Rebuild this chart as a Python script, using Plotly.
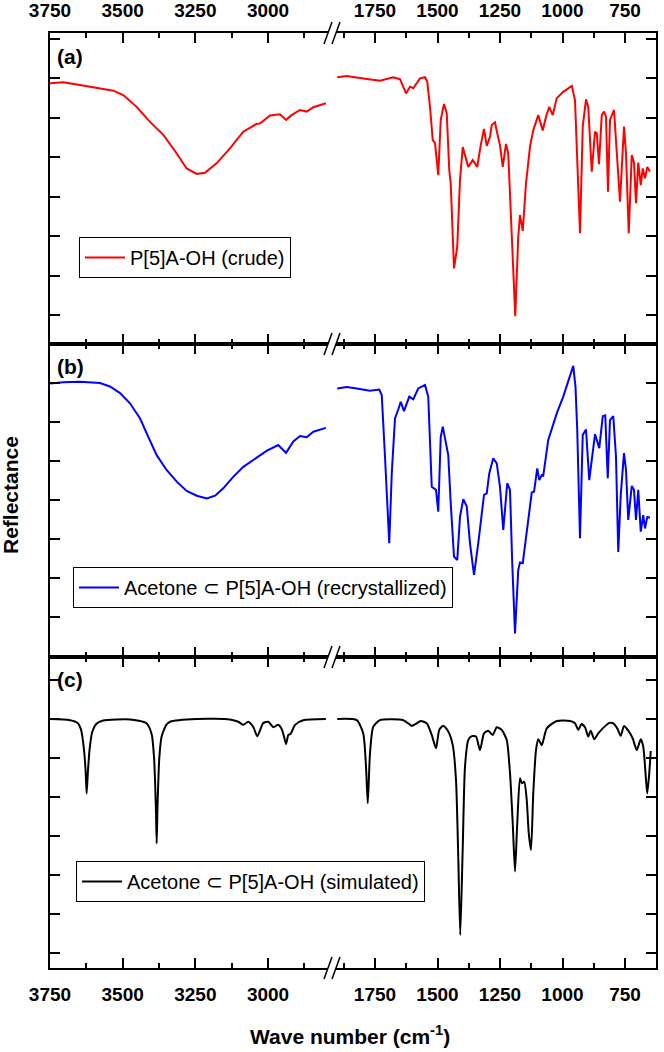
import plotly.graph_objects as go

# ---------------- data (wave number, reflectance in arbitrary units) ----------------
wn_a_hi = [3750,3704,3647,3589,3532,3498,3452,3406,3360,3314,3280,3245,3217,3177,3131,3085,3039,3028,2993,2959,2938,2919,2890,2867,2844,2801]
r_a_hi = [5.87,5.89,5.82,5.74,5.68,5.57,5.27,4.89,4.56,4.09,3.71,3.57,3.60,3.84,4.22,4.64,4.84,4.85,5.05,5.08,4.94,5.06,5.19,5.15,5.26,5.36]

wn_a_lo = [1901,1863,1797,1730,1677,1650,1626,1610,1597,1570,1550,1541,1530,1519,1510,1497,1487,1474,1463,1453,
           1447,1434,1421,1410,1399,1377,1359,1341,1327,1314,1303,1290,1283,1270,1261,1250,1239,1226,1217,1203,
           1189,1177,1170,1159,1146,1130,1117,1097,1079,1066,1053,1039,1023,997,963,950,941,930,919,906,
           897,883,870,863,854,843,834,826,818,810,794,783,770,754,746,735,723,714,706,697,
           687,679,670,661,650]
r_a_lo = [6.02,6.05,5.99,5.93,6.02,5.97,5.61,5.78,5.74,5.99,6.02,5.91,5.27,4.43,4.36,3.54,4.94,5.34,5.11,3.67,
          3.33,1.18,1.73,3.42,4.25,3.75,3.92,3.75,4.30,4.71,4.28,4.51,4.81,4.88,4.60,4.30,3.75,4.33,4.09,1.90,
          -0.03,1.98,2.53,2.13,3.33,4.26,4.68,5.06,4.67,5.02,5.27,5.06,5.49,5.65,5.80,5.44,4.09,2.07,4.77,5.46,
          5.27,3.63,4.64,4.60,3.82,5.06,5.15,5.02,3.12,4.94,5.19,4.09,2.87,4.77,4.09,2.07,4.05,3.86,2.83,3.86,
          3.29,3.71,3.46,3.75,3.63]

wn_b_hi = [3750,3704,3647,3578,3544,3509,3475,3440,3412,3383,3349,3314,3280,3245,3211,3182,3154,3119,3085,3039,
           3005,2965,2938,2913,2890,2867,2844,2801]
r_b_hi = [5.99,6.02,6.03,6.00,5.91,5.74,5.48,5.09,4.62,4.15,3.77,3.47,3.23,3.11,3.04,3.11,3.30,3.60,3.85,4.09,
          4.26,4.41,4.21,4.50,4.64,4.61,4.75,4.85]

wn_b_lo = [1901,1863,1823,1770,1733,1723,1710,1693,1683,1670,1657,1647,1634,1613,1597,1577,1550,1537,1523,1506,
           1497,1487,1479,1470,1457,1447,1434,1421,1410,1397,1383,1370,1354,1337,1314,1303,1293,1277,1263,1250,
           1237,1221,1210,1201,1190,1177,1170,1159,1143,1123,1114,1101,1093,1083,1077,1057,1023,997,957,948,
           941,930,919,906,893,870,853,839,829,819,810,797,786,777,767,754,746,737,723,714,
           706,697,687,677,670,661,650]
r_b_lo = [5.86,5.90,5.86,5.80,5.83,5.69,4.11,1.89,3.68,5.09,5.32,5.52,5.28,5.65,5.58,5.86,5.95,5.65,3.34,3.26,
          2.70,4.62,4.88,4.54,4.15,2.91,1.55,1.46,2.57,3.02,2.84,1.89,1.08,1.89,3.13,3.17,3.68,4.07,3.94,3.34,
          2.23,3.43,3.26,1.38,-0.42,1.21,1.40,1.38,2.23,3.19,3.21,3.81,3.51,3.64,3.62,4.54,5.22,5.65,6.44,5.90,
          4.79,2.02,4.67,4.81,3.51,4.69,4.33,5.15,5.17,3.56,5.05,5.15,4.11,1.67,3.13,4.20,3.77,2.49,3.36,3.26,
          2.49,3.26,2.19,2.61,2.27,2.56,2.55]

wn_c_hi = [3750,3681,3655,3643,3633,3627,3624,3620,3614,3605,3590,3567,3475,3418,3400,3392,3386,3383,3380,3374,
           3366,3350,3337,3245,3131,3102,3085,3068,3051,3037,3016,2999,2982,2965,2953,2945,2938,2930,2922,2907,
           2879,2801]
r_c_hi = [6.0,5.97,5.90,5.72,5.21,4.60,4.09,4.60,5.21,5.66,5.88,5.96,5.99,5.89,5.60,5.00,3.80,2.81,3.80,5.00,
          5.55,5.85,5.93,6.0,5.99,5.93,5.85,5.93,5.80,5.56,5.90,5.93,5.79,5.85,5.74,5.55,5.36,5.59,5.62,5.85,
          5.97,6.0]

wn_c_lo = [1901,1823,1797,1786,1779,1770,1757,1730,1637,1613,1603,1594,1583,1567,1543,1523,1506,1493,1477,1457,
           1439,1426,1417,1409,1399,1390,1377,1363,1346,1330,1314,1297,1279,1263,1243,1223,1210,1199,1190,1181,
           1170,1162,1153,1143,1135,1126,1117,1106,1097,1083,1063,1023,970,950,937,924,910,897,887,873,
           857,839,813,797,781,767,754,737,719,703,687,677,666,661,653,647]
r_c_lo = [6.0,5.97,5.63,4.78,3.84,5.12,5.80,5.97,5.97,5.87,5.82,5.85,5.89,5.95,5.89,5.59,5.25,5.72,5.83,5.68,
          5.33,4.44,2.47,0.46,2.72,4.78,5.46,5.56,5.55,5.20,5.63,5.70,5.59,5.79,5.72,5.46,4.61,3.32,2.09,3.32,
          4.48,4.35,4.39,3.92,3.07,2.64,4.09,5.20,5.48,5.33,5.76,5.95,5.95,5.89,5.72,5.87,5.79,5.55,5.70,5.48,
          5.63,5.76,5.90,5.89,5.76,5.57,5.82,5.70,5.50,5.20,5.48,5.29,4.44,4.09,4.61,5.18]

names = ["P[5]A-OH (crude)",
         "Acetone \u2282 P[5]A-OH (recrystallized)",
         "Acetone \u2282 P[5]A-OH (simulated)"]
colors = ["#ff0000", "#0000ff", "#000000"]
panel_labels = ["(a)", "(b)", "(c)"]

# ---------------- layout geometry ----------------
W, H = 664, 1052
L, R, T, B = 50, 8, 33, 84
PW, PH = W - L - R, H - T - B

def px(xp):
    return (xp - L) / PW

def py(yp):
    return (H - B - yp) / PH

x_left_dom = [0, px(328)]
x_right_dom = [px(336), 1]
x_left_rng = [3750, 3750 - (328 - 50) / 0.2907]
x_right_rng = [1750 + (375 - 336) * 4, 750 - (656 - 625) * 4]

panel_bounds = [(33, 344), (344, 657), (657, 968)]
y_ranges = [[-(344 - 315) / 39.5, (315 - 33) / 39.5],
            [-(657 - 617) / 39.0, (617 - 344) / 39.0],
            [-(968 - 953) / 39.0, (953 - 657) / 39.0]]

series = [(wn_a_hi, r_a_hi, wn_a_lo, r_a_lo),
          (wn_b_hi, r_b_hi, wn_b_lo, r_b_lo),
          (wn_c_hi, r_c_hi, wn_c_lo, r_c_lo)]

fig = go.Figure()
FONT = "Liberation Sans, Arial, sans-serif"
legend_pos = [(79, 237), (73, 567), (76, 861)]
line_w = 2

for i in range(3):
    xa1, xa2 = 2 * i + 1, 2 * i + 2
    whi, rhi, wlo, rlo = series[i]
    leg = "legend" if i == 0 else f"legend{i+1}"
    shape = "spline" if i == 2 else "linear"
    fig.add_trace(go.Scatter(x=whi, y=rhi, mode="lines",
                             line=dict(color=colors[i], width=line_w, shape=shape, smoothing=0.6),
                             xaxis=f"x{xa1}", yaxis=f"y{xa1}", showlegend=False, legend=leg))
    fig.add_trace(go.Scatter(x=wlo, y=rlo, mode="lines",
                             line=dict(color=colors[i], width=line_w, shape=shape, smoothing=0.6),
                             xaxis=f"x{xa2}", yaxis=f"y{xa2}", name=names[i], showlegend=True, legend=leg))

    top, bot = panel_bounds[i]
    ydom = [py(bot), py(top)]
    side = "top" if i == 0 else "bottom"
    show_lbl = i != 1
    common_x = dict(showline=True, linecolor="black", linewidth=1.5, mirror="allticks",
                    ticks="inside", ticklen=10, tickwidth=1.5, tickcolor="black",
                    showgrid=False, zeroline=False, side=side, showticklabels=show_lbl,
                    tickfont=dict(family=FONT, size=19, color="black", weight="bold"),
                    ticklabelstandoff=7 if i == 0 else 8,
                    minor=dict(ticks="inside", ticklen=5, tickwidth=1.5, tickcolor="black", dtick=125),
                    dtick=250, tick0=0, automargin=False)
    common_y = dict(showline=True, linecolor="black", linewidth=1.5, ticks="inside", ticklen=10,
                    tickwidth=1.5, tickcolor="black", showgrid=False, zeroline=False,
                    showticklabels=False, range=y_ranges[i], domain=ydom, dtick=1, tick0=0,
                    automargin=False)
    k1 = "xaxis" if xa1 == 1 else f"xaxis{xa1}"
    fig.layout[k1] = dict(common_x, domain=x_left_dom, range=x_left_rng, anchor=f"y{xa1}")
    fig.layout[f"xaxis{xa2}"] = dict(common_x, domain=x_right_dom, range=x_right_rng, anchor=f"y{xa2}")
    k1y = "yaxis" if xa1 == 1 else f"yaxis{xa1}"
    fig.layout[k1y] = dict(common_y, anchor=f"x{xa1}", side="left")
    fig.layout[f"yaxis{xa2}"] = dict(common_y, anchor=f"x{xa2}", side="right")

    lx, ly = legend_pos[i]
    fig.layout[leg] = dict(x=px(lx), y=py(ly), xanchor="left", yanchor="top", xref="paper", yref="paper",
                           bgcolor="white", bordercolor="black", borderwidth=1,
                           font=dict(family=FONT, size=20, color="black"), itemwidth=40,
                           tracegroupgap=0)

    # panel label
    fig.add_annotation(x=px(55), y=py((top + 23)), xref="paper", yref="paper", text=panel_labels[i],
                       showarrow=False, xanchor="left", yanchor="middle",
                       font=dict(family=FONT, size=21, color="black", weight="bold"))

# axis break marks
for yb in [33, 344, 657, 968]:
    for x0 in [324, 332]:
        fig.add_shape(type="line", xref="paper", yref="paper",
                      x0=px(x0), y0=py(yb + 11), x1=px(x0 + 8), y1=py(yb - 11),
                      line=dict(color="black", width=1.5))

fig.add_annotation(x=px(10), y=py(495), xref="paper", yref="paper", text="Reflectance",
                   textangle=-90, showarrow=False, xanchor="center", yanchor="middle",
                   font=dict(family=FONT, size=21, color="black", weight="bold"))
fig.add_annotation(x=px(350), y=py(1035), xref="paper", yref="paper",
                   text="Wave number (cm<sup>-1</sup>)", showarrow=False,
                   xanchor="center", yanchor="middle",
                   font=dict(family=FONT, size=21, color="black", weight="bold"))

fig.update_layout(width=W, height=H, margin=dict(l=L, r=R, t=T, b=B, autoexpand=False),
                  plot_bgcolor="white", paper_bgcolor="white")

fig.write_html("out.html")
